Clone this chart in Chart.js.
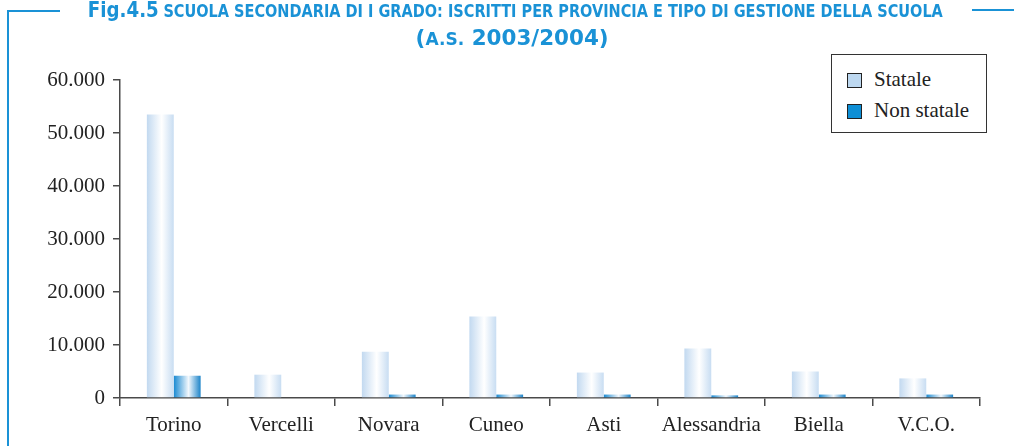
<!DOCTYPE html>
<html>
<head>
<meta charset="utf-8">
<script src="https://cdn.jsdelivr.net/npm/chart.js@4"></script>
<style>
  html, body { margin: 0; padding: 0; background: #fff; }
  #wrap { position: relative; width: 1014px; height: 446px; overflow: hidden; }
  #chartBox { position: absolute; left: 0; top: 0; width: 1014px; height: 446px; }
  .line { position: absolute; background: #1a92d6; }
  .title { position: absolute; width: 1014px; text-align: center; color: #1a92d6;
           font-family: "DejaVu Sans Condensed", "DejaVu Sans", sans-serif; font-weight: bold;
           font-stretch: condensed; white-space: nowrap; }
  .title span.inner { display: inline-block; transform-origin: center top; }
  .big { font-size: 22px; }
  .small { font-size: 17.5px; }
  #legend { position: absolute; left: 831px; top: 54px; width: 154px; height: 77px;
            border: 1.5px solid #333; background: #fff;
            font-family: "Liberation Serif", "Times New Roman", serif; font-size: 21px; color: #222; }
  .item { position: absolute; left: 15px; height: 20px; line-height: 20px; white-space: nowrap; }
  .sw { position: absolute; left: 0; top: 2px; width: 15px; height: 15px; border: 1px solid #222; box-sizing: border-box; }
  .lbl { position: absolute; left: 27px; top: -2px; }
</style>
</head>
<body>
<div id="wrap">
  <div id="chartBox"><canvas id="c"></canvas></div>
  <div class="line" style="left:7px; top:10px; width:2px; height:436px;"></div>
  <div class="line" style="left:7px; top:10px; width:53px; height:2px;"></div>
  <div class="line" style="left:972px; top:9px; width:42px; height:2px;"></div>
  <div class="title" style="top:-3px; left:8px;"><span class="inner" id="t1"><span class="big">Fig.4.5</span> <span class="small">SCUOLA SECONDARIA DI I GRADO: ISCRITTI PER PROVINCIA E TIPO DI GESTIONE DELLA SCUOLA</span></span></div>
  <div class="title" style="top:25px; left:5px;"><span class="inner" id="t2"><span class="big">(</span><span class="small">A.S.</span><span class="big"> 2003/2004)</span></span></div>
  <div id="legend"></div>
</div>
<script>
const categories = ['Torino', 'Vercelli', 'Novara', 'Cuneo', 'Asti', 'Alessandria', 'Biella', 'V.C.O.'];
const seriesNames = ['Statale', 'Non statale'];
const statale = [53500, 4400, 8750, 15400, 4800, 9350, 5000, 3700];
const nonStatale = [4200, 0, 650, 650, 650, 500, 650, 650];
const yTickLabels = ['0', '10.000', '20.000', '30.000', '40.000', '50.000', '60.000'];
const swatchColors = ['#bdd8f0', '#0e8fd6'];

function fit(id, target) {
  const el = document.getElementById(id);
  const w = el.getBoundingClientRect().width;
  el.style.transform = 'scaleX(' + (target / w) + ')';
}
fit('t1', 855);
fit('t2', 193);

const legend = document.getElementById('legend');
seriesNames.forEach((name, i) => {
  const it = document.createElement('div');
  it.className = 'item';
  it.style.top = (16 + i * 31) + 'px';
  it.innerHTML = '<span class="sw" style="background:' + swatchColors[i] + '"></span><span class="lbl">' + name + '</span>';
  legend.appendChild(it);
});

const gradStops = [
  [[0, '#c2d9f0'], [0.55, '#ffffff'], [1, '#c8ddf2']],
  [[0, '#1a8ad2'], [0.55, '#f2f8fd'], [1, '#1c84c9']]
];

const gradientPlugin = {
  id: 'barGradient',
  beforeDatasetsDraw(chart) {
    const ctx = chart.ctx;
    chart.data.datasets.forEach((ds, di) => {
      const meta = chart.getDatasetMeta(di);
      meta.data.forEach(el => {
        const p = el.getProps(['x', 'width'], true);
        const g = ctx.createLinearGradient(p.x - p.width / 2, 0, p.x + p.width / 2, 0);
        gradStops[di].forEach(s => g.addColorStop(s[0], s[1]));
        el.options = Object.assign({}, el.options, { backgroundColor: g });
      });
    });
  }
};

const axisColor = '#4a4a4a';
const fontSpec = { family: '"Liberation Serif", "Times New Roman", serif', size: 21 };

new Chart(document.getElementById('c'), {
  type: 'bar',
  data: {
    labels: categories,
    datasets: [
      { label: seriesNames[0], data: statale, backgroundColor: (c) => swatchColors[0], borderWidth: 0 },
      { label: seriesNames[1], data: nonStatale, backgroundColor: (c) => swatchColors[1], borderWidth: 0 }
    ]
  },
  options: {
    responsive: true,
    maintainAspectRatio: false,
    animation: false,
    events: [],
    layout: { padding: { top: 80, right: 34, bottom: 0, left: 0 } },
    datasets: { bar: { categoryPercentage: 0.5, barPercentage: 1.0 } },
    plugins: { legend: { display: false }, title: { display: false }, tooltip: { enabled: false } },
    scales: {
      x: {
        grid: { offset: true, drawOnChartArea: false, drawTicks: true, tickLength: 8, color: axisColor, lineWidth: 1.5 },
        border: { display: true, color: axisColor, width: 1.5 },
        ticks: { color: '#222', font: fontSpec, padding: 7, maxRotation: 0, autoSkip: false },
        afterFit(scale) { scale.height = 48; }
      },
      y: {
        min: 0, max: 60000,
        grid: { drawOnChartArea: false, drawTicks: true, tickLength: 7, color: axisColor, lineWidth: 1.5 },
        border: { display: true, color: axisColor, width: 1.5 },
        ticks: { stepSize: 10000, color: '#222', font: fontSpec, padding: 8,
                 callback: (v, i) => yTickLabels[i] },
        afterFit(scale) { scale.width = 120; }
      }
    }
  },
  plugins: [gradientPlugin]
});
</script>
</body>
</html>
